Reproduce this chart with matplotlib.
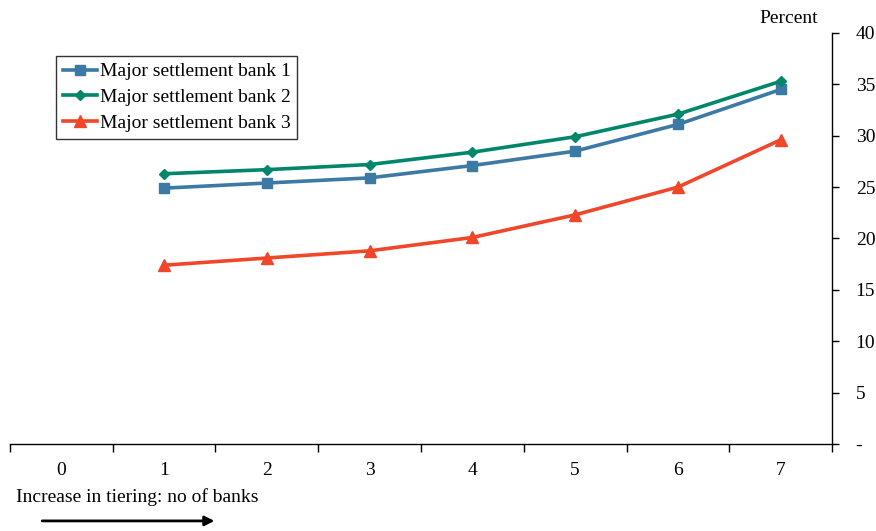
import matplotlib
matplotlib.use('Agg')
import matplotlib.pyplot as plt

# values (percent)
tiers = [1, 2, 3, 4, 5, 6, 7]
bank1 = [24.9, 25.4, 25.9, 27.1, 28.5, 31.1, 34.5]
bank2 = [26.3, 26.7, 27.2, 28.4, 29.9, 32.1, 35.3]
bank3 = [17.4, 18.1, 18.8, 20.1, 22.3, 25.0, 29.6]
x_labels = ['0', '1', '2', '3', '4', '5', '6', '7']
y_ticks = [0, 5, 10, 15, 20, 25, 30, 35, 40]
y_labels = ['-', '5', '10', '15', '20', '25', '30', '35', '40']

plt.rcParams['font.family'] = ['Liberation Serif', 'DejaVu Serif']
fs = 14

fig = plt.figure(figsize=(8.76, 5.31), dpi=100)
ax = fig.add_axes([0.0114, 0.1638, 0.9384, 0.7741])

ax.plot(tiers, bank1, color='#3d79a5', lw=2.6, marker='s', ms=7.5, label='Major settlement bank 1')
ax.plot(tiers, bank2, color='#00876a', lw=2.6, marker='D', ms=5.5, label='Major settlement bank 2')
ax.plot(tiers, bank3, color='#f0462a', lw=2.6, marker='^', ms=8, label='Major settlement bank 3')

ax.set_xlim(-0.5, 7.5)
ax.set_ylim(0, 40)

for s in ['top', 'left']:
    ax.spines[s].set_visible(False)
ax.spines['bottom'].set_linewidth(1.0)
ax.spines['right'].set_linewidth(1.0)

# category boundaries get ticks, labels sit in the middle
ax.set_xticks([i - 0.5 for i in range(9)])
ax.set_xticklabels([])
ax.set_xticks(range(8), minor=True)
ax.set_xticklabels(x_labels, minor=True)
ax.tick_params(axis='x', which='major', direction='out', length=6, width=1)
ax.tick_params(axis='x', which='minor', length=0, pad=13, labelsize=fs)

ax.yaxis.tick_right()
ax.set_yticks(y_ticks)
ax.set_yticklabels(y_labels)
ax.tick_params(axis='y', direction='out', length=5, width=1, pad=12, labelsize=fs)

fig.text(0.90, 0.966, 'Percent', ha='center', va='center', fontsize=fs)
fig.text(0.018, 0.064, 'Increase in tiering: no of banks', ha='left', va='center', fontsize=fs)
fig.add_artist(matplotlib.patches.FancyArrowPatch((0.045, 0.019), (0.248, 0.019),
                                                  transform=fig.transFigure, arrowstyle='-|>',
                                                  mutation_scale=14, color='black', lw=2))

leg = ax.legend(loc='upper left', bbox_to_anchor=(0.056, 0.944), fontsize=fs,
                frameon=True, fancybox=False, edgecolor='black', borderpad=0.35,
                labelspacing=0.42, handlelength=1.75, handletextpad=0.15, borderaxespad=0)
leg.get_frame().set_linewidth(1.0)
leg._legend_box.align = 'left'

fig.savefig('out.png', dpi=100)
